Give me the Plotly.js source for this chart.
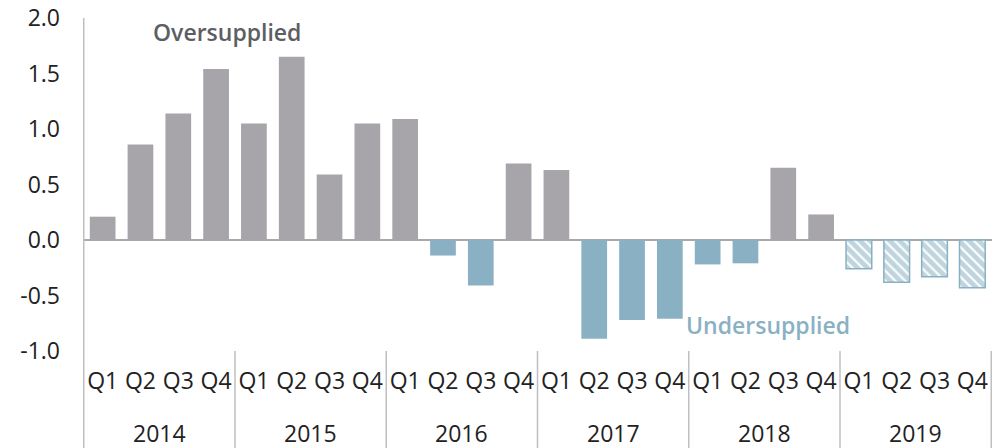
<!DOCTYPE html>
<html><head><meta charset="utf-8">
<script src="https://cdn.plot.ly/plotly-3.0.1.min.js"></script>
<style>html,body{margin:0;padding:0;background:#fff;}#chart{width:1003px;height:448px;}</style>
</head><body><div id="chart"></div>
<script>
const years = ["2014","2015","2016","2017","2018","2019"];
const quarters = ["Q1","Q2","Q3","Q4"];
const balance = [0.21,0.86,1.14,1.54, 1.05,1.65,0.59,1.05, 1.09,-0.14,-0.41,0.69, 0.63,-0.89,-0.72,-0.71, -0.22,-0.21,0.65,0.23, -0.26,-0.38,-0.33,-0.43];
const forecastYear = "2019";
const yTicks = [-1,-0.5,0,0.5,1,1.5,2];
const yTickText = ["-1.0","-0.5","0.0","0.5","1.0","1.5","2.0"];

const GREY = "#A7A5AA", BLUE = "#8AB1C3", DIV = "#bfbfbf";
const cats = [], qLabels = [], yrOf = [];
years.forEach(y => quarters.forEach(q => { cats.push(y + " " + q); qLabels.push(q); yrOf.push(y); }));
const isFc = yrOf.map(y => y === forecastYear);

const actualY = balance.map((v,i) => isFc[i] ? null : v);
const fcY = balance.map((v,i) => isFc[i] ? v : null);

const traces = [
  {type: "bar", x: cats, y: actualY, marker: {color: actualY.map(v => v >= 0 ? GREY : BLUE), line: {width: 0}}, hoverinfo: "none"},
  {type: "bar", x: cats, y: fcY, marker: {color: "#ffffff", line: {color: BLUE, width: 1.5},
     pattern: {shape: "\\", fgcolor: "#7FA9BC", bgcolor: "#ffffff", size: 7, solidity: 0.7, fillmode: "overlay"}}, hoverinfo: "none"}
];

const shapes = [];
for (let g = 0; g <= years.length; g++) {
  const xb = g * quarters.length - 0.5;
  shapes.push({type: "line", xref: "x", yref: "paper", x0: xb, x1: xb, y0: g === 0 ? 1 : 0, y1: -0.3, line: {color: DIV, width: 1.5}});
}
const annotations = years.map((y, g) => ({
  text: y, xref: "x", yref: "paper", x: g * quarters.length + (quarters.length - 1) / 2, y: -0.246,
  yanchor: "middle", xanchor: "center", showarrow: false, font: {size: 23, color: "#222"}
}));
annotations.push(
  {text: "Oversupplied", xref: "x", yref: "y", x: 3.3, y: 1.87, showarrow: false, xanchor: "center", yanchor: "middle", font: {size: 23, color: "#5d5e62", weight: 600}},
  {text: "Undersupplied", xref: "x", yref: "y", x: 17.6, y: -0.77, showarrow: false, xanchor: "center", yanchor: "middle", font: {size: 23, color: BLUE, weight: 600}}
);

const layout = {
  width: 1003, height: 448,
  margin: {l: 83, r: 11, t: 18, b: 97},
  paper_bgcolor: "#fff", plot_bgcolor: "#fff",
  barmode: "relative", bargap: 0.32,
  showlegend: false,
  font: {family: "Open Sans, sans-serif", size: 23, color: "#222"},
  xaxis: {
    type: "category", tickvals: cats, ticktext: qLabels,
    showline: false, showgrid: false, zeroline: false, ticks: "",
    ticklabelstandoff: 14, tickfont: {size: 23, color: "#222"}
  },
  yaxis: {
    range: [-1, 2], tickvals: yTicks, ticktext: yTickText,
    showgrid: false, zeroline: true, zerolinecolor: "#a9a9a9", zerolinewidth: 2,
    showline: false, ticks: "", ticklabelstandoff: 22, tickfont: {size: 23, color: "#222"}
  },
  shapes: shapes,
  annotations: annotations
};

Plotly.newPlot("chart", traces, layout, {staticPlot: true, displayModeBar: false});
</script>
</body></html>
